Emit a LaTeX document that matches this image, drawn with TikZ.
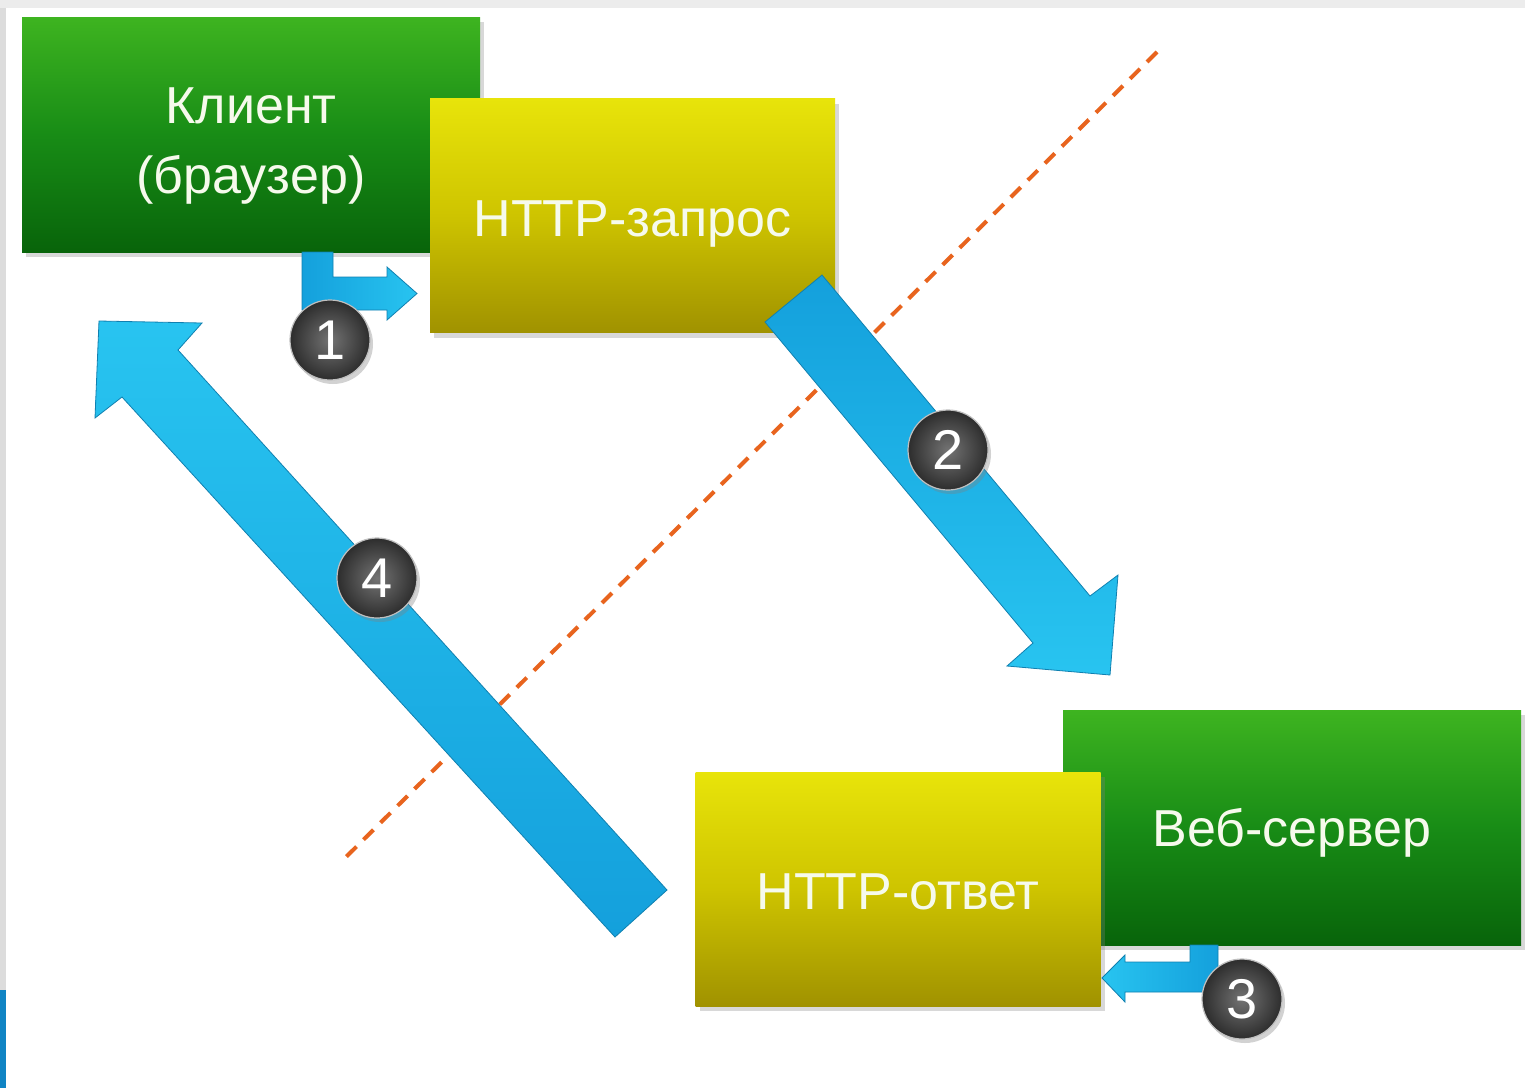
\documentclass[tikz,border=0pt]{standalone}
\usepackage{fontspec}
\setmainfont{Liberation Sans}
\usetikzlibrary{shadows}
\definecolor{gtop}{RGB}{62,180,32}
\definecolor{gmid}{RGB}{24,140,22}
\definecolor{gbot}{RGB}{8,100,10}
\definecolor{ytop}{RGB}{232,228,10}
\definecolor{ymid}{RGB}{206,196,0}
\definecolor{ybot}{RGB}{160,146,0}
\definecolor{blight}{RGB}{40,196,240}
\definecolor{bdark}{RGB}{20,160,220}
\definecolor{orangeline}{RGB}{232,100,30}
\definecolor{txt}{RGB}{246,250,236}
\definecolor{edgegray}{RGB}{236,236,236}
\definecolor{sidegray}{RGB}{220,220,220}
\definecolor{sideblue}{RGB}{16,132,196}
\begin{document}
\begin{tikzpicture}[x=0.5pt,y=-0.5pt,
  boxtext/.style={font=\fontsize{26}{35}\selectfont, text=txt, align=center, inner sep=0pt},
  greenbox/.style={rectangle, top color=gtop, bottom color=gbot, middle color=gmid,
    minimum width=229pt, minimum height=117.5pt,
    drop shadow={opacity=0.3, shadow xshift=2pt, shadow yshift=-2.5pt}},
  yellowbox/.style={rectangle, top color=ytop, bottom color=ybot, middle color=ymid,
    minimum width=202.5pt, minimum height=117pt,
    drop shadow={opacity=0.3, shadow xshift=2pt, shadow yshift=-2.5pt}},
  bluearrow/.style={left color=bdark, right color=blight, draw=bdark!80!black, line width=0.4pt},
  numball/.style={circle, minimum size=40pt, inner sep=0pt, text=white,
    font=\fontsize{28}{28}\selectfont,
    inner color={rgb,255:red,115;green,115;blue,115}, outer color={rgb,255:red,45;green,45;blue,45},
    draw=white!75!black, line width=0.6pt,
    drop shadow={opacity=0.35, shadow xshift=1.5pt, shadow yshift=-2pt}},
  dashline/.style={orangeline, line width=2pt, dash pattern=on 7pt off 5pt}
]
\useasboundingbox (0,0) rectangle (1525,1088);
\fill[white] (0,0) rectangle (1525,1088);
\fill[edgegray] (0,0) rectangle (1525,8);
\fill[sidegray] (0,8) rectangle (6,990);
\fill[sideblue] (0,990) rectangle (6,1088);

% dashed separator (behind the arrows)
\coordinate (dtop) at (1157,52);
\coordinate (dbot) at (345,858);
\draw[dashline] (dtop) -- (dbot);

% boxes
\node[greenbox] (client) at (251,134.5) {};
\node[boxtext] (clienttext) at ([yshift=-6pt]client.center) {Клиент\\(браузер)};
\node[greenbox] (server) at (1292,827.5) {};
\node[boxtext] (servertext) at ([yshift=-2.5pt]server.center) {Веб-сервер};
\node[yellowbox] (request) at (632.5,215.5) {};
\node[boxtext] (requesttext) at ([yshift=-4.5pt]request.center) {HTTP-запрос};
\node[yellowbox] (response) at (898,889) {};
\node[boxtext] (responsetext) at ([yshift=-1.5pt]response.center) {HTTP-ответ};

% arrow 1 (elbow)
\path[bluearrow] (302,252) -- (333,252) -- (333,277) -- (387,277) -- (387,267)
  -- (417,293.5) -- (387,320) -- (387,310) -- (302,310) -- cycle;
% arrow 3 (elbow)
\path[bluearrow, left color=blight, right color=bdark] (1218,945) -- (1218,992) -- (1125,992) -- (1125,1002)
  -- (1102,978) -- (1125,955) -- (1125,962) -- (1190,962) -- (1190,945) -- cycle;
% arrow 2
\path[bluearrow, top color=bdark, bottom color=blight]
  (765,322) -- (822,275) -- (1090,596) -- (1118,575) -- (1110,675) -- (1007,666) -- (1033,643) -- cycle;
% arrow 4
\path[bluearrow, top color=blight, bottom color=bdark]
  (667,890) -- (178,350) -- (202,323) -- (99,321) -- (95,418) -- (122,397) -- (615,937) -- cycle;

% numbers
\node[numball] (n1) at (330,340) {1};
\node[numball] (n2) at (948,450) {2};
\node[numball] (n3) at (1242,999) {3};
\node[numball] (n4) at (377,578) {4};
\end{tikzpicture}
\end{document}
